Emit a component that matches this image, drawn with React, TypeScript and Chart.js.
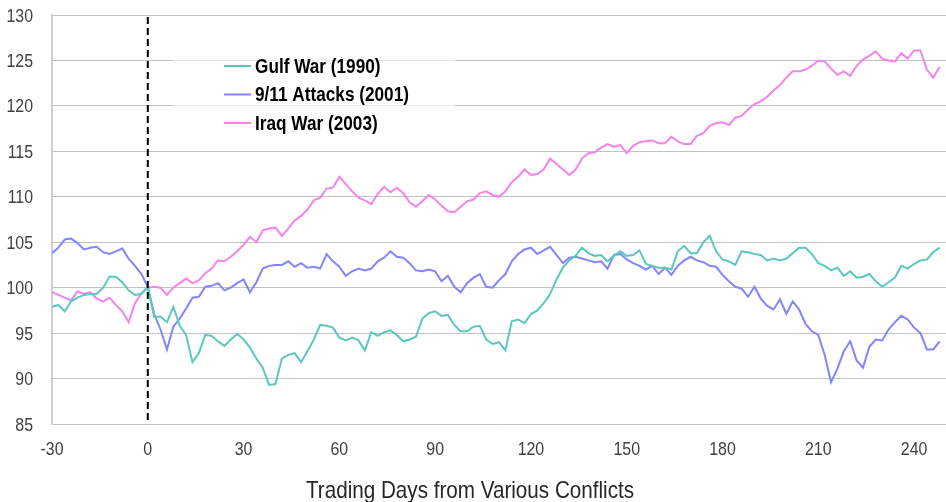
import React, { useEffect, useRef } from 'react';
import { Chart, registerables } from 'chart.js';

Chart.register(...registerables);

// Trading days (every second day) from -30 to 248
const days: number[] = Array.from({ length: 140 }, (_, i) => -30 + 2 * i);

const gulfWar = [
  97.9, 98.1, 97.4, 98.5, 98.9, 99.2, 99.3, 99.3, 100.0, 101.2, 101.2, 100.6, 99.7, 99.2, 99.3,
  100.1, 96.8, 96.8, 96.2, 97.9, 95.8, 94.8, 91.8, 92.8, 94.8, 94.7, 94.1, 93.6, 94.3, 94.9,
  94.3, 93.4, 92.2, 91.2, 89.3, 89.4, 92.2, 92.6, 92.8, 91.8, 93.0, 94.3, 95.9, 95.8, 95.6,
  94.5, 94.2, 94.5, 94.2, 93.1, 95.1, 94.7, 95.1, 95.3, 94.8, 94.1, 94.3, 94.6, 96.6, 97.2,
  97.4, 96.9, 97.0, 95.9, 95.2, 95.2, 95.7, 95.8, 94.3, 93.8, 94.0, 93.1, 96.3, 96.5, 96.1,
  97.1, 97.5, 98.3, 99.3, 100.9, 102.2, 103.0, 103.5, 104.4, 103.8, 103.5, 103.6, 102.9, 103.5, 104.0,
  103.5, 103.6, 104.1, 102.6, 102.4, 102.2, 102.2, 102.0, 104.0, 104.6, 103.8, 103.8, 105.0, 105.7, 104.0,
  103.1, 102.9, 102.5, 104.0, 103.9, 103.7, 103.6, 103.0, 103.2, 103.0, 103.2, 103.8, 104.4, 104.4, 103.7,
  102.7, 102.4, 101.9, 102.2, 101.3, 101.8, 101.1, 101.2, 101.5, 100.7, 100.1, 100.6, 101.1, 102.4, 102.1,
  102.6, 103.0, 103.1, 103.9, 104.4,
];

const attacks911 = [
  103.8, 104.4, 105.3, 105.4, 104.9, 104.2, 104.4, 104.5, 103.9, 103.7, 104.0, 104.3, 103.2, 102.4, 101.5,
  100.1, 97.1, 95.4, 93.2, 95.7, 96.6, 97.7, 98.9, 99.0, 100.1, 100.2, 100.5, 99.7, 100.0, 100.5,
  100.9, 99.5, 100.6, 102.1, 102.4, 102.5, 102.5, 102.9, 102.3, 102.7, 102.2, 102.3, 102.1, 103.7, 102.9,
  102.3, 101.3, 101.8, 102.1, 101.9, 102.1, 102.9, 103.3, 104.0, 103.4, 103.3, 102.7, 101.9, 101.8, 102.0,
  101.8, 100.7, 101.3, 100.1, 99.5, 100.5, 101.1, 101.5, 100.1, 100.0, 100.8, 101.5, 102.9, 103.7, 104.2,
  104.4, 103.7, 104.1, 104.5, 103.6, 102.7, 103.3, 103.4, 103.2, 103.0, 102.8, 102.9, 102.1, 103.6, 103.7,
  103.1, 102.7, 102.4, 102.0, 102.4, 101.5, 102.2, 101.4, 102.4, 103.0, 103.4, 103.0, 102.8, 102.4, 102.3,
  101.4, 100.7, 100.1, 99.9, 99.0, 100.1, 98.8, 98.0, 97.6, 98.7, 97.1, 98.5, 97.6, 96.0, 95.2,
  94.8, 92.6, 89.6, 91.1, 93.0, 94.1, 92.0, 91.2, 93.5, 94.3, 94.2, 95.4, 96.2, 96.9, 96.5,
  95.6, 95.0, 93.2, 93.2, 94.1,
];

const iraqWar = [
  99.5, 99.2, 98.9, 98.6, 99.6, 99.3, 99.5, 98.8, 98.5, 98.9, 98.1, 97.4, 96.2, 98.3, 99.4,
  100.0, 100.1, 100.0, 99.2, 100.0, 100.5, 101.0, 100.5, 100.8, 101.6, 102.1, 103.0, 102.9, 103.4, 104.0,
  104.7, 105.6, 105.0, 106.3, 106.5, 106.6, 105.7, 106.5, 107.4, 107.9, 108.6, 109.6, 109.9, 110.9, 111.0,
  112.2, 111.4, 110.6, 109.9, 109.6, 109.2, 110.3, 111.1, 110.5, 111.0, 110.4, 109.4, 108.9, 109.5, 110.2,
  109.7, 109.0, 108.4, 108.3, 108.9, 109.5, 109.7, 110.4, 110.6, 110.2, 110.0, 110.6, 111.6, 112.2, 113.0,
  112.4, 112.5, 113.0, 114.2, 113.6, 113.0, 112.4, 113.0, 114.2, 114.8, 114.9, 115.4, 115.8, 115.5, 115.7,
  114.8, 115.6, 116.0, 116.1, 116.2, 115.9, 115.9, 116.6, 116.1, 115.8, 115.8, 116.7, 117.0, 117.8, 118.1,
  118.2, 117.9, 118.7, 118.9, 119.6, 120.2, 120.5, 121.0, 121.7, 122.3, 123.1, 123.8, 123.8, 124.0, 124.4,
  125.0, 124.9, 124.1, 123.4, 123.8, 123.3, 124.4, 125.1, 125.5, 126.0, 125.2, 125.0, 124.9, 125.8, 125.2,
  126.1, 126.1, 124.0, 123.1, 124.3,
];

const xTicks = [-30, 0, 30, 60, 90, 120, 150, 180, 210, 240];
const yTicks = [85, 90, 95, 100, 105, 110, 115, 120, 125, 130];
const seriesNames = ['Gulf War (1990)', '9/11 Attacks (2001)', 'Iraq War (2003)'];
const seriesColors = ['#5cc8bd', '#8484ff', '#f284ea'];
const eventDay = 0;
const axisTitle = 'Trading Days from Various Conflicts';

const FONT = "'Liberation Sans', Arial, sans-serif";
const NARROW = 0.86; // horizontal squeeze to mimic a narrow face

function drawNarrowText(
  ctx: CanvasRenderingContext2D,
  text: string,
  x: number,
  y: number,
  font: string,
  color: string,
  align: 'left' | 'right' | 'center',
  baseline: CanvasTextBaseline,
  sx: number
) {
  ctx.save();
  ctx.font = font;
  ctx.fillStyle = color;
  ctx.textAlign = 'left';
  ctx.textBaseline = baseline;
  const w = ctx.measureText(text).width * sx;
  const left = align === 'right' ? x - w : align === 'center' ? x - w / 2 : x;
  ctx.translate(left, y);
  ctx.scale(sx, 1);
  ctx.fillText(text, 0, 0);
  ctx.restore();
}

export default function App() {
  const ref = useRef<HTMLCanvasElement | null>(null);

  useEffect(() => {
    document.body.style.margin = '0';
    const canvas = ref.current;
    if (!canvas) return;

    const series = [gulfWar, attacks911, iraqWar];

    const overlay = {
      id: 'overlay',
      beforeDatasetsDraw(chart: any) {
        const { ctx, chartArea } = chart;
        ctx.save();
        ctx.fillStyle = 'rgba(255,255,255,0.6)';
        ctx.fillRect(chartArea.left + 121, chartArea.top + 33, 282, 88);
        ctx.restore();
      },
      afterDatasetsDraw(chart: any) {
        const { ctx, chartArea, scales } = chart;
        const x0 = scales.x.getPixelForValue(eventDay);
        ctx.save();
        ctx.strokeStyle = '#000';
        ctx.lineWidth = 2;
        ctx.setLineDash([7, 4]);
        ctx.beginPath();
        ctx.moveTo(x0, chartArea.top + 2);
        ctx.lineTo(x0, chartArea.bottom);
        ctx.stroke();
        ctx.setLineDash([]);

        // legend
        const lx = chartArea.left + 172;
        const ly = chartArea.top + 51;
        seriesNames.forEach((name, i) => {
          const y = ly + i * 28.5;
          ctx.strokeStyle = seriesColors[i];
          ctx.lineWidth = 2;
          ctx.beginPath();
          ctx.moveTo(lx, y);
          ctx.lineTo(lx + 27, y);
          ctx.stroke();
          drawNarrowText(ctx, name, lx + 31, y + 1, `bold 20px ${FONT}`, '#000', 'left', 'middle', NARROW);
        });

        // y tick labels
        yTicks.forEach((v) => {
          const y = scales.y.getPixelForValue(v);
          drawNarrowText(ctx, String(v), chartArea.left - 19, y + 1.5, `18.5px ${FONT}`, '#404040', 'right', 'middle', NARROW);
        });
        // x tick labels
        xTicks.forEach((v) => {
          const x = scales.x.getPixelForValue(v);
          drawNarrowText(ctx, String(v), x, chartArea.bottom + 26, `18.5px ${FONT}`, '#404040', 'center', 'middle', NARROW);
        });
        // axis title
        drawNarrowText(ctx, axisTitle, chart.width / 2 - 3, 498, `24px ${FONT}`, '#262626', 'center', 'alphabetic', NARROW);
        ctx.restore();
      },
    };

    const chart = new Chart(canvas, {
      type: 'line',
      data: {
        datasets: series.map((vals, i) => ({
          label: seriesNames[i],
          data: days.map((d, j) => ({ x: d, y: vals[j] })),
          borderColor: seriesColors[i],
          backgroundColor: seriesColors[i],
          borderWidth: 2,
          pointRadius: 0,
          tension: 0,
          fill: false,
        })),
      },
      options: {
        animation: false,
        responsive: false,
        maintainAspectRatio: false,
        layout: { padding: { top: 15, left: 0, right: 0, bottom: 0 } },
        plugins: {
          legend: { display: false },
          tooltip: { enabled: false },
          title: { display: false },
        },
        scales: {
          x: {
            type: 'linear',
            min: -30,
            max: 250,
            afterBuildTicks: (s: any) => {
              s.ticks = xTicks.map((v) => ({ value: v }));
            },
            afterFit: (s: any) => {
              s.height = 78;
              s.paddingLeft = 0;
              s.paddingRight = 0;
            },
            grid: { display: false, drawTicks: false },
            border: { display: true, color: '#c4c4c4', width: 1 },
            ticks: { display: false },
          },
          y: {
            type: 'linear',
            min: 85,
            max: 130,
            afterBuildTicks: (s: any) => {
              s.ticks = yTicks.map((v) => ({ value: v }));
            },
            afterFit: (s: any) => {
              s.width = 52;
              s.paddingTop = 0;
              s.paddingBottom = 0;
            },
            grid: { color: '#c2c2c2', lineWidth: 1, drawTicks: false },
            border: { display: true, color: '#cfcfcf', width: 2 },
            ticks: { display: false },
          },
        },
      },
      plugins: [overlay],
    } as any);

    return () => chart.destroy();
  }, []);

  return (
    <div style={{ width: 946, height: 502, position: 'relative' }}>
      <canvas ref={ref} width={946} height={502} style={{ display: 'block', width: 946, height: 502 }} />
    </div>
  );
}
